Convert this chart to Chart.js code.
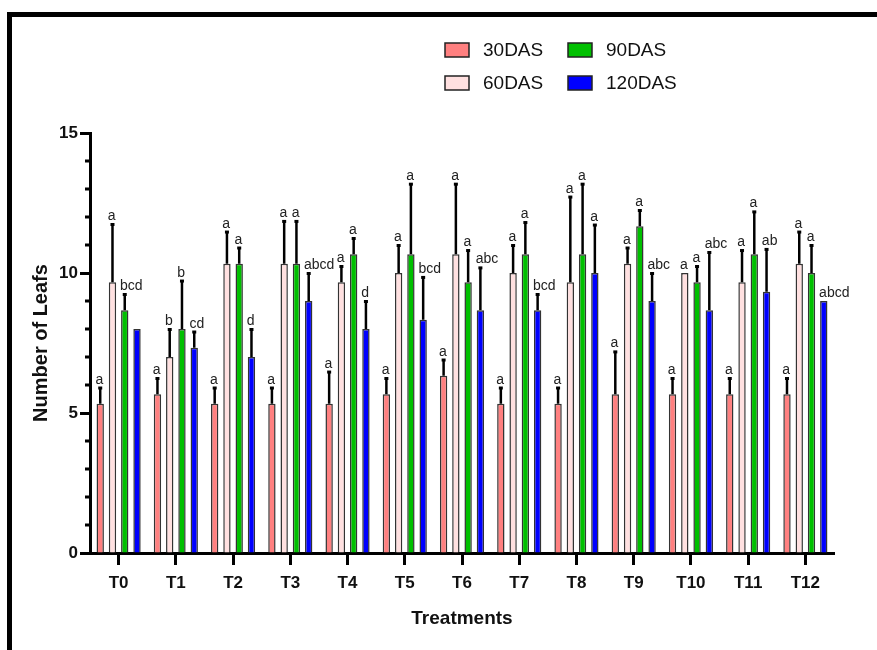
<!DOCTYPE html>
<html>
<head>
<meta charset="utf-8">
<script src="https://cdn.jsdelivr.net/npm/chart.js@4"></script>
<style>
  html, body { margin: 0; padding: 0; background: #fff; }
  #wrap { width: 877px; height: 650px; position: relative; }
</style>
</head>
<body>
<div id="wrap"><canvas id="leafChart" width="877" height="650"></canvas></div>
<script>
// data (mean, SD, significance letters)
const treatments = ["T0", "T1", "T2", "T3", "T4", "T5", "T6", "T7", "T8", "T9", "T10", "T11", "T12"];
const seriesNames = ["30DAS", "60DAS", "90DAS", "120DAS"];

const das30 = [5.33, 5.67, 5.33, 5.33, 5.33, 5.67, 6.33, 5.33, 5.33, 5.67, 5.67, 5.67, 5.67];
const das60 = [9.67, 7.0, 10.33, 10.33, 9.67, 10.0, 10.67, 10.0, 9.67, 10.33, 10.0, 9.67, 10.33];
const das90 = [8.67, 8.0, 10.33, 10.33, 10.67, 10.67, 9.67, 10.67, 10.67, 11.67, 9.67, 10.67, 10.0];
const das120 = [8.0, 7.33, 7.0, 9.0, 8.0, 8.33, 8.67, 8.67, 10.0, 9.0, 8.67, 9.33, 9.0];

const sd30 = [0.58, 0.58, 0.58, 0.58, 1.15, 0.58, 0.58, 0.58, 0.58, 1.53, 0.58, 0.58, 0.58];
const sd60 = [2.08, 1.0, 1.15, 1.53, 0.58, 1.0, 2.52, 1.0, 3.06, 0.58, 0, 1.15, 1.15];
const sd90 = [0.58, 1.73, 0.58, 1.53, 0.58, 2.52, 1.15, 1.15, 2.52, 0.58, 0.58, 1.53, 1.0];
const sd120 = [0, 0.58, 1.0, 1.0, 1.0, 1.53, 1.53, 0.58, 1.73, 1.0, 2.08, 1.53, 0];

const let30 = ["a", "a", "a", "a", "a", "a", "a", "a", "a", "a", "a", "a", "a"];
const let60 = ["a", "b", "a", "a", "a", "a", "a", "a", "a", "a", "a", "a", "a"];
const let90 = ["bcd", "b", "a", "a", "a", "a", "a", "a", "a", "a", "a", "a", "a"];
const let120 = ["", "cd", "d", "abcd", "d", "bcd", "abc", "bcd", "a", "abc", "abc", "ab", "abcd"];

const yTicks = [0, 5, 10, 15];

const fills = ["#FF8080", "#FFE0E0", "#00C000", "#0000FF"];
const sds = [sd30, sd60, sd90, sd120];
const letters = [let30, let60, let90, let120];

const FONT = "'Liberation Sans', Arial, sans-serif";

// frame lines top + left
const framePlugin = {
  id: "frame",
  beforeDraw(chart) {
    const c = chart.ctx;
    c.save();
    c.fillStyle = "#fff";
    c.fillRect(0, 0, chart.width, chart.height);
    c.fillStyle = "#000";
    c.fillRect(7, 12, 870, 5);
    c.fillRect(7, 12, 5, 638);
    c.restore();
  }
};

// error bars (upper only) and letters
const errorPlugin = {
  id: "errbars",
  afterDatasetsDraw(chart) {
    const c = chart.ctx;
    const y = chart.scales.y;
    c.save();
    chart.data.datasets.forEach((ds, i) => {
      const meta = chart.getDatasetMeta(i);
      meta.data.forEach((bar, j) => {
        const v = ds.data[j];
        const sd = sds[i][j];
        const top = y.getPixelForValue(v + sd);
        if (sd > 0) {
          c.strokeStyle = "#000";
          c.lineWidth = 2.5;
          c.beginPath();
          c.moveTo(bar.x, bar.y);
          c.lineTo(bar.x, top);
          c.stroke();
          c.fillStyle = "#000";
          c.fillRect(bar.x - 2, top - 1, 4, 3);
        }
        const txt = letters[i][j];
        if (txt) {
          c.fillStyle = "#222";
          c.font = "14px " + FONT;
          c.textAlign = "left";
          c.textBaseline = "alphabetic";
          c.fillText(txt, bar.x - bar.width / 2 - 1, top - 4);
        }
      });
    });
    c.restore();
  }
};

// minor ticks on y axis
const minorTicks = {
  id: "minorTicks",
  afterDraw(chart) {
    const c = chart.ctx;
    const y = chart.scales.y;
    const x0 = chart.chartArea.left;
    c.save();
    c.strokeStyle = "#000";
    c.lineWidth = 3;
    for (let v = 1; v < 15; v++) {
      if (v % 5 === 0) continue;
      const py = y.getPixelForValue(v);
      c.beginPath();
      c.moveTo(x0 - 5, py);
      c.lineTo(x0, py);
      c.stroke();
    }
    c.restore();
  }
};

// legend, two columns
const legendPlugin = {
  id: "legend2col",
  afterDraw(chart) {
    const c = chart.ctx;
    const spots = [[445, 43], [445, 76], [568, 43], [568, 76]];
    c.save();
    c.font = "19px " + FONT;
    c.textBaseline = "middle";
    c.textAlign = "left";
    chart.data.datasets.forEach((ds, i) => {
      const [bx, by] = spots[i];
      c.fillStyle = ds.backgroundColor;
      c.fillRect(bx, by, 24, 14);
      c.strokeStyle = "#222";
      c.lineWidth = 1.5;
      c.strokeRect(bx, by, 24, 14);
      c.fillStyle = "#111";
      c.fillText(ds.label, bx + 38, by + 8);
    });
    c.restore();
  }
};

const datasets = [das30, das60, das90, das120].map((vals, i) => ({
  label: seriesNames[i],
  data: vals,
  backgroundColor: fills[i],
  borderColor: "#333",
  borderWidth: 1.5,
  categoryPercentage: 0.857,
  barPercentage: 0.6
}));

const ctx = document.getElementById("leafChart").getContext("2d");
new Chart(ctx, {
  type: "bar",
  data: { labels: treatments, datasets: datasets },
  options: {
    responsive: false,
    animation: false,
    layout: { padding: { left: 0, top: 133, right: 43, bottom: 0 } },
    plugins: {
      legend: { display: false },
      tooltip: { enabled: false }
    },
    scales: {
      x: {
        grid: {
          offset: false,
          drawOnChartArea: false,
          drawTicks: true,
          tickLength: 12,
          tickWidth: 3,
          tickColor: "#000"
        },
        border: { display: true, color: "#000", width: 3 },
        ticks: {
          color: "#111",
          padding: 8,
          font: { family: FONT, size: 17, weight: "bold" }
        },
        title: {
          display: true,
          text: "Treatments",
          color: "#111",
          padding: { top: 0, bottom: 20 },
          font: { family: FONT, size: 19, weight: "bold" }
        },
        afterFit(scale) { scale.height = 97; }
      },
      y: {
        min: 0,
        max: 15,
        afterBuildTicks(scale) { scale.ticks = yTicks.map(v => ({ value: v })); },
        grid: {
          drawOnChartArea: false,
          drawTicks: true,
          tickLength: 10,
          tickWidth: 3,
          tickColor: "#000"
        },
        border: { display: true, color: "#000", width: 3 },
        ticks: {
          color: "#111",
          padding: 2,
          font: { family: FONT, size: 17, weight: "bold" }
        },
        title: {
          display: true,
          text: "Number of Leafs",
          color: "#111",
          padding: { top: 29, bottom: 0 },
          font: { family: FONT, size: 20, weight: "bold" }
        },
        afterFit(scale) { scale.width = 90; }
      }
    }
  },
  plugins: [framePlugin, errorPlugin, minorTicks, legendPlugin]
});
</script>
</body>
</html>
